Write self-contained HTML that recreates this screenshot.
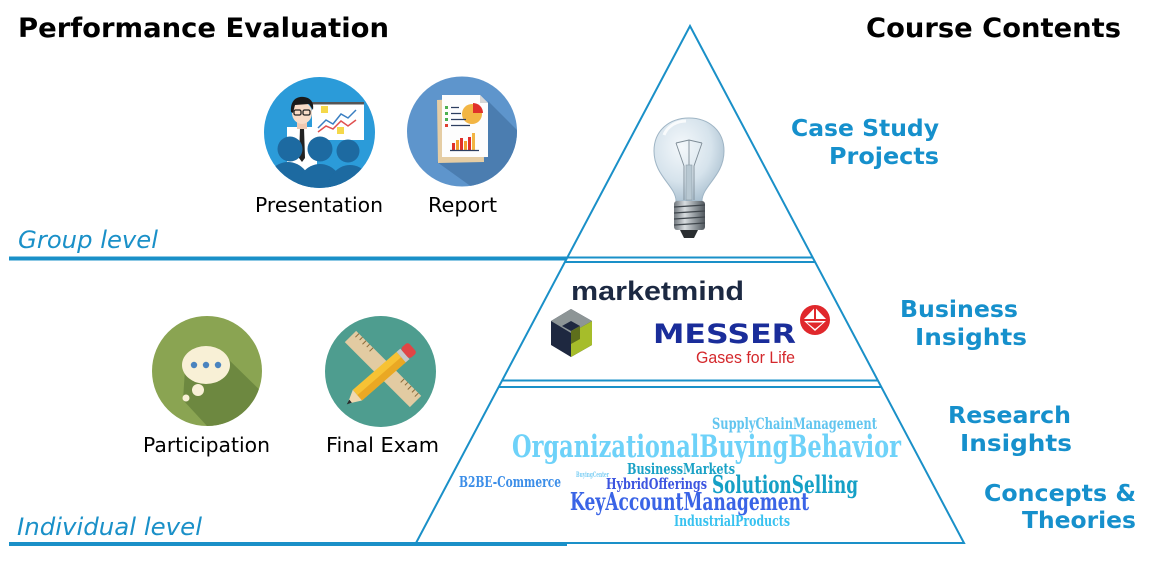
<!DOCTYPE html>
<html><head><meta charset="utf-8"><style>
html,body{margin:0;padding:0;background:#fff;}
svg{display:block;}
.h{font-family:"DejaVu Sans","Liberation Sans",sans-serif;font-weight:bold;}
.r{font-family:"DejaVu Sans","Liberation Sans",sans-serif;}
.w{font-family:"DejaVu Serif","Liberation Serif",serif;font-weight:bold;}
</style></head><body>
<svg width="1152" height="574" viewBox="0 0 1152 574" xmlns="http://www.w3.org/2000/svg">
<defs>
<clipPath id="c1"><circle cx="319.5" cy="132.5" r="55.5"/></clipPath>
<clipPath id="c2"><circle cx="462" cy="131.5" r="55"/></clipPath>
<clipPath id="c3"><circle cx="207" cy="371" r="55"/></clipPath>
<clipPath id="c4"><circle cx="380.5" cy="371.5" r="55.5"/></clipPath>
<radialGradient id="glass" cx="0.4" cy="0.35" r="0.7">
<stop offset="0" stop-color="#f4f8fb"/><stop offset="0.6" stop-color="#d6e3ec"/><stop offset="1" stop-color="#a9bfcf"/>
</radialGradient>
<linearGradient id="screw" x1="0" x2="1" y1="0" y2="0">
<stop offset="0" stop-color="#6f767c"/><stop offset="0.35" stop-color="#d8dcdf"/><stop offset="0.7" stop-color="#8c9398"/><stop offset="1" stop-color="#50575d"/>
</linearGradient>
</defs>

<!-- Titles -->
<text class="h" x="18" y="37" font-size="27" textLength="371" lengthAdjust="spacingAndGlyphs" fill="#000">Performance Evaluation</text>
<text class="h" x="866" y="37" font-size="27" textLength="255" lengthAdjust="spacingAndGlyphs" fill="#000">Course Contents</text>

<!-- Level lines -->
<line x1="9" y1="258.5" x2="567" y2="258.5" stroke="#1a90c8" stroke-width="4"/>
<line x1="9" y1="544" x2="567" y2="544" stroke="#1a90c8" stroke-width="4"/>
<text class="r" x="18" y="248" font-size="24" font-style="italic" textLength="140" lengthAdjust="spacingAndGlyphs" fill="#1a90c8">Group level</text>
<text class="r" x="17" y="535" font-size="24" font-style="italic" textLength="185" lengthAdjust="spacingAndGlyphs" fill="#1a90c8">Individual level</text>

<!-- Pyramid -->
<g stroke="#1a90c8" stroke-width="2" fill="none">
<polygon points="690,26 964,543 416,543"/>
<line x1="567.3" y1="257.5" x2="812.7" y2="257.5"/>
<line x1="564.9" y1="262" x2="815.1" y2="262"/>
<line x1="502.1" y1="380.5" x2="877.9" y2="380.5"/>
<line x1="498.7" y1="387" x2="881.3" y2="387"/>
</g>

<!-- Bulb -->
<g>
<path d="M676,201 C676,186 654,176 654,151 C654,130 670,118 689,118 C708,118 724,130 724,151 C724,176 702,186 702,201 Z" fill="url(#glass)" stroke="#9fb5c5" stroke-width="1"/>
<path d="M664,135 C668,125 678,121 686,121" stroke="#ffffff" stroke-width="3" fill="none" opacity="0.8"/>
<g stroke="#7e8c96" stroke-width="0.9" fill="none">
<path d="M676,143 L684,166 L684,200"/><path d="M702,143 L694,166 L694,200"/>
<path d="M676,143 L689,140 L702,143"/>
<line x1="689" y1="140" x2="689" y2="200"/>
</g>
<rect x="686" y="165" width="6" height="35" fill="#b8c8d2" stroke="#8a9aa6" stroke-width="0.6"/>
<rect x="674" y="201" width="31" height="29" rx="3" fill="url(#screw)"/>
<g stroke="#3f464c" stroke-width="1.2">
<line x1="674" y1="207" x2="705" y2="205"/><line x1="674" y1="213" x2="705" y2="211"/>
<line x1="674" y1="219" x2="705" y2="217"/><line x1="674" y1="225" x2="705" y2="223"/>
</g>
<path d="M680,230 L698,230 L694,238 L684,238 Z" fill="#2a2e31"/>
</g>

<!-- Course content labels -->
<g class="h" fill="#1690cc" font-size="23">
<text x="791" y="136" textLength="148" lengthAdjust="spacingAndGlyphs">Case Study</text>
<text x="829" y="164" textLength="110" lengthAdjust="spacingAndGlyphs">Projects</text>
<text x="900" y="317" textLength="118" lengthAdjust="spacingAndGlyphs">Business</text>
<text x="915" y="345" textLength="112" lengthAdjust="spacingAndGlyphs">Insights</text>
<text x="948" y="423" textLength="123" lengthAdjust="spacingAndGlyphs">Research</text>
<text x="960" y="451" textLength="112" lengthAdjust="spacingAndGlyphs">Insights</text>
<text x="984" y="501" textLength="152" lengthAdjust="spacingAndGlyphs">Concepts &amp;</text>
<text x="1022" y="528" textLength="114" lengthAdjust="spacingAndGlyphs">Theories</text>
</g>

<!-- marketmind -->
<text x="571" y="300" font-family="Liberation Sans, DejaVu Sans, sans-serif" font-weight="bold" font-size="27" textLength="173" lengthAdjust="spacingAndGlyphs" fill="#1c2942">marketmind</text>
<g>
<polygon points="571,309 592,321 592,345 571,357 551,345 551,321" fill="#1e2840"/>
<polygon points="571,309 592,321 571,333 551,321" fill="#8d9596"/>
<polygon points="592,321 592,345 571,357 571,333" fill="#a6bd2a"/>
<polygon points="562,326 571,321 580,326 571,331" fill="#1e2840"/>
<polygon points="571,331 580,326 580,339 571,344" fill="#5e6f1c"/>
<polygon points="556,325 571,334 571,350 556,341" fill="#1e2840"/>
</g>

<!-- MESSER -->
<text x="653" y="343" font-family="DejaVu Sans, Liberation Sans, sans-serif" font-weight="bold" font-size="27" textLength="143" lengthAdjust="spacingAndGlyphs" fill="#1a2d9a">MESSER</text>
<text x="696" y="363" font-family="Liberation Sans, DejaVu Sans, sans-serif" font-size="17" textLength="99" lengthAdjust="spacingAndGlyphs" fill="#d4282c">Gases for Life</text>
<g>
<circle cx="815" cy="320" r="15" fill="#e0282c"/>
<polygon points="815,307.5 827,320 815,331 803,320" fill="#ffffff"/>
<line x1="802" y1="320" x2="828" y2="320" stroke="#e0282c" stroke-width="2"/>
<line x1="815" y1="307" x2="815" y2="320" stroke="#e0282c" stroke-width="2"/>
<polygon points="807,322.5 823,322.5 815,329" fill="#e0282c"/>
</g>

<!-- Word cloud -->
<g class="w">
<text x="712" y="429" font-size="16" textLength="165" lengthAdjust="spacingAndGlyphs" fill="#62c5ef">SupplyChainManagement</text>
<text x="512" y="457" font-size="31" textLength="389" lengthAdjust="spacingAndGlyphs" fill="#6ed2f9">OrganizationalBuyingBehavior</text>
<text x="627" y="474" font-size="15" textLength="108" lengthAdjust="spacingAndGlyphs" fill="#1ba2c6">BusinessMarkets</text>
<text x="576" y="477" font-size="7" textLength="33" lengthAdjust="spacingAndGlyphs" fill="#7dcff4">BuyingCenter</text>
<text x="459" y="487" font-size="15" textLength="102" lengthAdjust="spacingAndGlyphs" fill="#3c8ee8">B2BE-Commerce</text>
<text x="606" y="489" font-size="15" textLength="101" lengthAdjust="spacingAndGlyphs" fill="#3d55e0">HybridOfferings</text>
<text x="712" y="493" font-size="24" textLength="146" lengthAdjust="spacingAndGlyphs" fill="#15a0c6">SolutionSelling</text>
<text x="570" y="510" font-size="24" textLength="239" lengthAdjust="spacingAndGlyphs" fill="#3a64e6">KeyAccountManagement</text>
<text x="674" y="526" font-size="15" textLength="116" lengthAdjust="spacingAndGlyphs" fill="#38c2f0">IndustrialProducts</text>
</g>

<!-- Presentation icon -->
<g clip-path="url(#c1)">
<circle cx="319.5" cy="132.5" r="56" fill="#2b9bd9"/>
<rect x="312" y="103" width="52" height="37" fill="#ffffff"/>
<rect x="312" y="102" width="52" height="2.5" fill="#555"/>
<polyline points="318,128 326,120 333,124 341,114 348,118 356,110" fill="none" stroke="#3a7fc2" stroke-width="1.5"/>
<polyline points="318,132 326,126 333,129 341,121 348,126 356,120" fill="none" stroke="#e05050" stroke-width="1.5"/>
<rect x="321" y="106" width="7" height="7" fill="#f5d84a"/>
<rect x="337" y="127" width="7" height="7" fill="#f5d84a"/>
<rect x="287" y="127" width="30" height="60" fill="#ffffff"/>
<polygon points="300,128 304,128 305,158 302,162 299,158" fill="#222"/>
<rect x="297" y="120" width="10" height="9" fill="#f0c8b0"/>
<ellipse cx="302" cy="113" rx="10" ry="11" fill="#f8dcc8"/>
<path d="M291,112 C290,100 297,96 304,97 C312,98 314,104 313,110 L309,104 L295,105 L293,113 Z" fill="#1a1a1a"/>
<g stroke="#222" stroke-width="1.3" fill="none"><rect x="294" y="110" width="7" height="5" rx="1.5"/><rect x="303" y="110" width="7" height="5" rx="1.5"/></g>
<g fill="#1d6aa1">
<circle cx="290" cy="149" r="12.5"/><ellipse cx="288" cy="190" rx="24" ry="28"/>
<circle cx="320" cy="149" r="12.5"/><ellipse cx="320" cy="192" rx="24" ry="28"/>
<circle cx="348" cy="151" r="11.5"/><ellipse cx="350" cy="192" rx="23" ry="27"/>
</g>
</g>

<!-- Report icon -->
<g clip-path="url(#c2)">
<circle cx="462" cy="131.5" r="56" fill="#5e95cc"/>
<polygon points="482,95 540,153 540,200 490,200 437,162 488,157 488,101" fill="#4b7db0"/>
<polygon points="437,100 483,98 484,162 438,163" fill="#e5cda4"/>
<polygon points="442,95 480,95 488,103 488,157 442,157" fill="#fdfdfd"/>
<polygon points="480,95 488,103 480,103" fill="#d7d7d7"/>
<circle cx="472" cy="114" r="10" fill="#f2b544"/>
<path d="M473,113 L473,103 A10,10 0 0 1 483,113 Z" fill="#e0302a"/>
<g fill="#4cb050"><rect x="445" y="106" width="3" height="3"/><rect x="445" y="112" width="3" height="3"/><rect x="445" y="118" width="3" height="3"/></g>
<rect x="445" y="124" width="3" height="3" fill="#e04030"/>
<g stroke="#2c3e60" stroke-width="1.3"><line x1="451" y1="107.5" x2="459" y2="107.5"/><line x1="451" y1="113.5" x2="461" y2="113.5"/><line x1="451" y1="119.5" x2="466" y2="119.5"/><line x1="451" y1="125.5" x2="470" y2="125.5"/></g>
<rect x="452" y="143" width="3" height="7" fill="#e0302a"/>
<rect x="456" y="140" width="3" height="10" fill="#f2a030"/>
<rect x="460" y="138" width="3" height="12" fill="#e0302a"/>
<rect x="464" y="141" width="3" height="9" fill="#f2a030"/>
<rect x="468" y="137" width="3" height="13" fill="#e0302a"/>
<rect x="472" y="133" width="3" height="17" fill="#f2b544"/>
<line x1="450" y1="150.5" x2="479" y2="150.5" stroke="#2c3e60" stroke-width="1.3"/>
</g>

<!-- Participation icon -->
<g clip-path="url(#c3)">
<circle cx="207" cy="371" r="56" fill="#8aa452"/>
<polygon points="186,354 226,357 270,400 270,440 220,440 183,400" fill="#6d8840"/>
<ellipse cx="206" cy="365" rx="24" ry="19" fill="#f8f0d6"/>
<circle cx="198" cy="390" r="6" fill="#f8f0d6"/>
<circle cx="186" cy="398" r="3.5" fill="#f8f0d6"/>
<g fill="#4a84bf"><circle cx="194" cy="365" r="3.2"/><circle cx="206" cy="365" r="3.2"/><circle cx="218" cy="365" r="3.2"/></g>
</g>

<!-- Final Exam icon -->
<g clip-path="url(#c4)">
<circle cx="380.5" cy="371.5" r="56" fill="#4e9d8f"/>
<g transform="translate(383,369) rotate(45)">
<rect x="-46" y="-8" width="92" height="16" fill="#e2cba2"/>
<g stroke="#8a6a3a" stroke-width="1">
<line x1="-42" y1="-8" x2="-42" y2="-3"/><line x1="-37" y1="-8" x2="-37" y2="-4"/><line x1="-32" y1="-8" x2="-32" y2="-3"/><line x1="-27" y1="-8" x2="-27" y2="-4"/><line x1="-22" y1="-8" x2="-22" y2="-3"/>
<line x1="22" y1="-8" x2="22" y2="-3"/><line x1="27" y1="-8" x2="27" y2="-4"/><line x1="32" y1="-8" x2="32" y2="-3"/><line x1="37" y1="-8" x2="37" y2="-4"/><line x1="42" y1="-8" x2="42" y2="-3"/>
</g>
</g>
<g transform="translate(380,375.5) rotate(-41)">
<rect x="-30" y="-7" width="58" height="14" fill="#f7c234"/>
<rect x="-30" y="0" width="58" height="7" fill="#eaa823"/>
<polygon points="-30,-7 -30,7 -43,0" fill="#f0d8b0"/>
<polygon points="-39,-2 -39,2 -44,0" fill="#2a2a2a"/>
<rect x="28" y="-7" width="5" height="14" fill="#c8c8c8"/>
<rect x="33" y="-7" width="10" height="14" rx="3" fill="#e04545"/>
</g>
</g>

<!-- Icon labels -->
<g class="r" font-size="20" fill="#000">
<text x="255" y="212" textLength="128" lengthAdjust="spacingAndGlyphs">Presentation</text>
<text x="428" y="212" textLength="69" lengthAdjust="spacingAndGlyphs">Report</text>
<text x="143" y="452" textLength="127" lengthAdjust="spacingAndGlyphs">Participation</text>
<text x="326" y="452" textLength="113" lengthAdjust="spacingAndGlyphs">Final Exam</text>
</g>
</svg>
</body></html>
